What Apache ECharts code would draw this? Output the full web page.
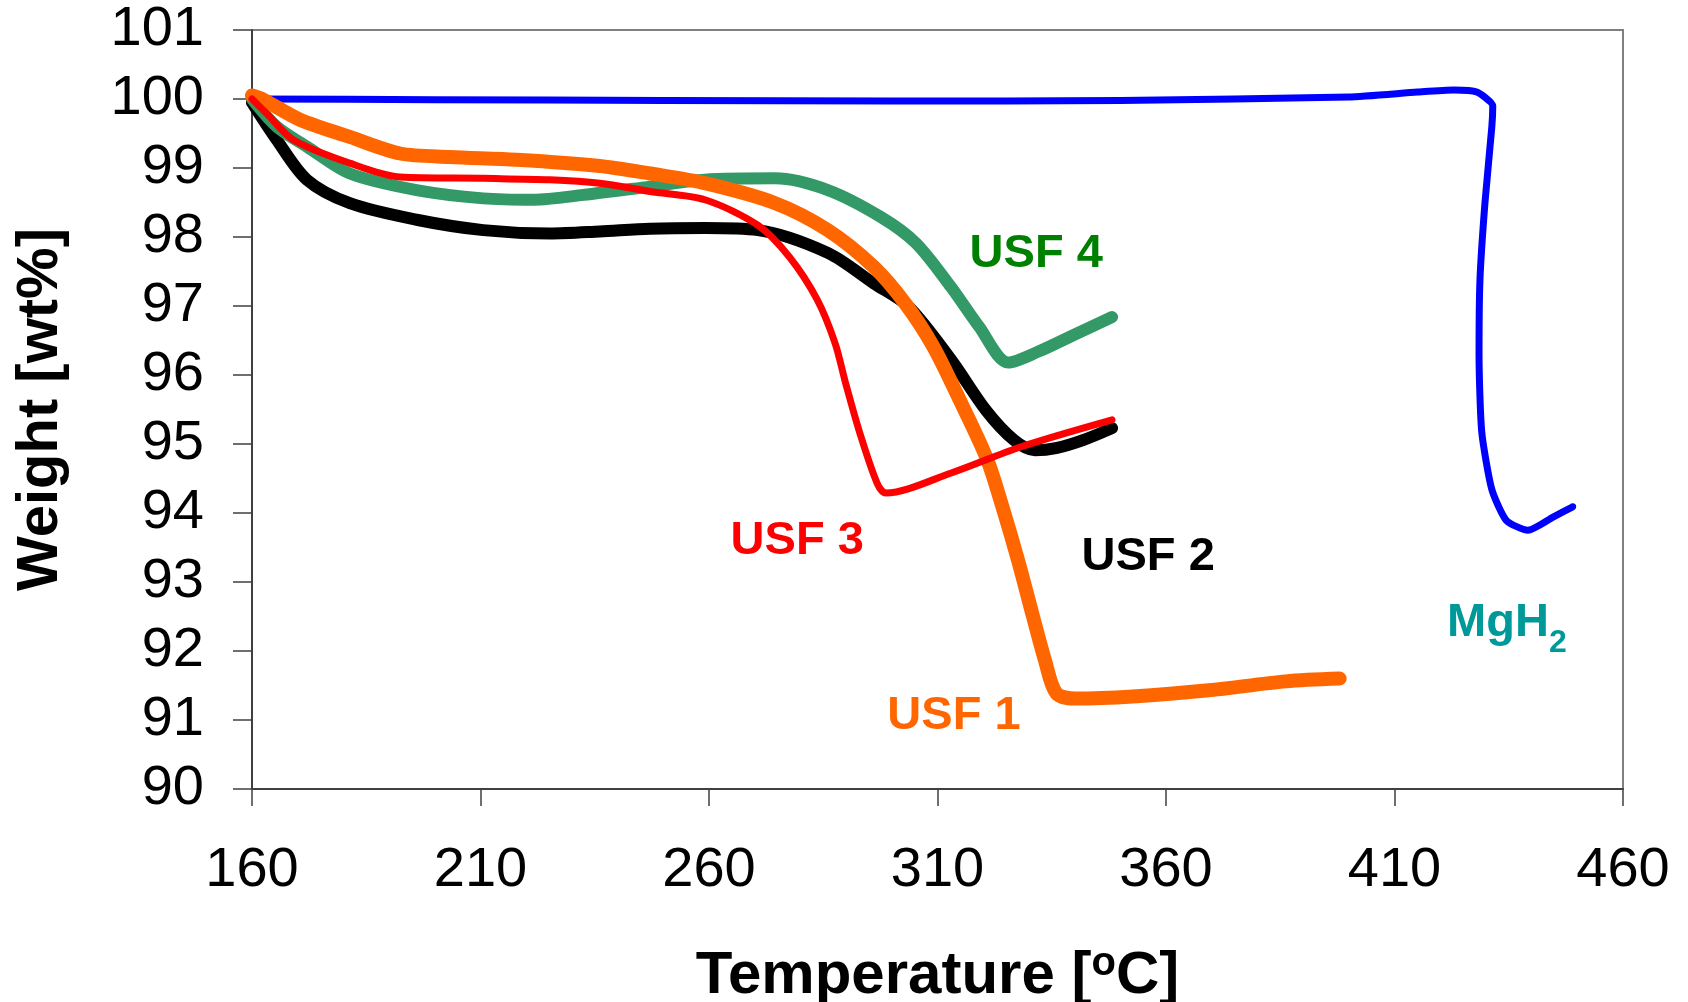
<!DOCTYPE html>
<html>
<head>
<meta charset="utf-8">
<script src="https://cdn.jsdelivr.net/npm/echarts@6/dist/echarts.min.js"></script>
<style>
  html, body { margin: 0; padding: 0; background: #fff; }
  #chart { width: 1688px; height: 1002px; }
</style>
</head>
<body>
<div id="chart"></div>
<script>
// axis ticks
const xTicks = [160, 210, 260, 310, 360, 410, 460];
const yTicks = [90, 91, 92, 93, 94, 95, 96, 97, 98, 99, 100, 101];

// MgH2 (blue)
const mgh2Temp = [160, 200, 250, 300, 350, 400, 415, 423, 428, 431.5, 431.3, 429.8, 428.7, 428.5, 429.1, 431.3, 434.5, 439.2, 444.7, 449];
const mgh2Weight = [100.0, 99.99, 99.98, 99.97, 99.98, 100.03, 100.1, 100.13, 100.1, 99.9, 99.6, 98.5, 97.38, 96.28, 95.17, 94.34, 93.89, 93.75, 93.94, 94.09];

// USF 2 (black)
const usf2Temp = [160, 165.4, 172, 181.4, 196, 210.6, 225.2, 236.1, 247.1, 259.1, 270.7, 286, 296, 303.7, 313, 320.6, 326.7, 331.3, 335.9, 342, 348.2];
const usf2Weight = [99.95, 99.41, 98.83, 98.49, 98.25, 98.10, 98.05, 98.08, 98.12, 98.13, 98.10, 97.77, 97.33, 96.99, 96.22, 95.49, 95.06, 94.91, 94.94, 95.06, 95.23];

// USF 4 (green)
const usf4Temp = [160, 165.4, 172, 181.4, 196, 210.6, 221.6, 232.5, 247.1, 259.1, 274.5, 286, 297.6, 305.3, 312.9, 319.1, 325.5, 332.1, 339.8, 348.2];
const usf4Weight = [100.0, 99.6, 99.31, 98.92, 98.68, 98.56, 98.54, 98.61, 98.73, 98.83, 98.85, 98.68, 98.29, 97.91, 97.28, 96.70, 96.18, 96.34, 96.58, 96.84];

// USF 1 (orange)
const usf1Temp = [160, 162.5, 170.5, 181.4, 192.4, 203.3, 217.9, 236.1, 247.1, 259.1, 274.5, 286, 296, 302.9, 309.1, 315.2, 320.9, 324.2, 327.6, 330.9, 333.5, 336, 340.2, 352.7, 369.4, 386.2, 398];
const usf1Weight = [100.05, 99.99, 99.70, 99.45, 99.21, 99.16, 99.12, 99.03, 98.92, 98.78, 98.49, 98.10, 97.57, 97.04, 96.41, 95.59, 94.77, 94.09, 93.32, 92.50, 91.87, 91.39, 91.31, 91.34, 91.43, 91.56, 91.60];

// USF 3 (red)
const usf3Temp = [160, 163.2, 169, 181.4, 192.4, 210.6, 225.2, 236.1, 247.1, 259.1, 270.7, 277.6, 283.7, 287.6, 289.9, 293, 296.8, 298.7, 313, 328.3, 348.2];
const usf3Weight = [100.0, 99.79, 99.41, 99.07, 98.87, 98.85, 98.83, 98.78, 98.66, 98.54, 98.17, 97.71, 97.09, 96.46, 95.88, 95.16, 94.43, 94.29, 94.58, 94.96, 95.35];

// curve labels, placed in data coordinates
const noteText = ['USF 4', 'USF 3', 'USF 2', 'USF 1', 'MgH{sub|2}'];
const noteTemp = [331.6, 279.3, 356.1, 313.6, 434.6];
const noteWeight = [97.75, 93.6, 93.36, 91.06, 92.4];
const noteColor = ['#008000', '#FF0000', '#000000', '#FF6600', '#009999'];

const FONT = 'Liberation Sans, Arial, sans-serif';

function pairs(xs, ys) {
  return xs.map((x, i) => [x, ys[i]]);
}

function curve(name, xs, ys, color, width, smooth) {
  return {
    name: name,
    type: 'line',
    data: pairs(xs, ys),
    showSymbol: false,
    symbol: 'none',
    smooth: smooth,
    lineStyle: { color: color, width: width, cap: 'round', join: 'round' },
    z: 2
  };
}

const chart = echarts.init(document.getElementById('chart'));

const option = {
  animation: false,
  backgroundColor: '#ffffff',
  textStyle: { fontFamily: FONT },
  grid: {
    left: 252, right: 65, top: 30, bottom: 213,
    outerBoundsMode: 'none',
    show: true,
    borderColor: '#808080',
    borderWidth: 2
  },
  xAxis: {
    type: 'value',
    min: xTicks[0],
    max: xTicks[xTicks.length - 1],
    interval: 50,
    name: 'Temperature [{sup|o}C]',
    nameLocation: 'middle',
    nameGap: 155,
    nameTextStyle: {
      fontFamily: FONT, fontSize: 60, fontWeight: 'bold', color: '#000',
      rich: {
        sup: { fontFamily: FONT, fontSize: 40, fontWeight: 'bold', color: '#000', verticalAlign: 'top', padding: [0, 0, 24, 0] }
      }
    },
    axisLine: { lineStyle: { color: '#404040', width: 2 } },
    axisTick: { show: true, length: 17, lineStyle: { color: '#404040', width: 1.5 } },
    axisLabel: { fontFamily: FONT, fontSize: 56, color: '#000', margin: 54 },
    splitLine: { show: false }
  },
  yAxis: {
    type: 'value',
    min: yTicks[0],
    max: yTicks[yTicks.length - 1],
    interval: 1,
    name: 'Weight [wt%]',
    nameLocation: 'middle',
    nameRotate: 90,
    nameGap: 182,
    nameTextStyle: { fontFamily: FONT, fontSize: 58, fontWeight: 'bold', color: '#000' },
    axisLine: { show: true, lineStyle: { color: '#404040', width: 2 } },
    axisTick: { show: true, length: 19, lineStyle: { color: '#404040', width: 1.5 } },
    axisLabel: { fontFamily: FONT, fontSize: 56, color: '#000', margin: 48 },
    splitLine: { show: false }
  },
  series: [
    curve('MgH2', mgh2Temp, mgh2Weight, '#0000FF', 7, 0.2),
    curve('USF 2', usf2Temp, usf2Weight, '#000000', 12, 0.3),
    curve('USF 4', usf4Temp, usf4Weight, '#339966', 12, 0.3),
    curve('USF 1', usf1Temp, usf1Weight, '#FF6600', 14, 0.3),
    curve('USF 3', usf3Temp, usf3Weight, '#FF0000', 7, 0.3),
    {
      // curve names as text
      name: 'notes',
      type: 'scatter',
      symbolSize: 1,
      itemStyle: { color: 'transparent', opacity: 1 },
      silent: true,
      z: 5,
      data: noteText.map((t, i) => ({
        value: [noteTemp[i], noteWeight[i]],
        label: {
          show: true,
          position: 'inside',
          formatter: t,
          color: noteColor[i],
          opacity: 1,
          textBorderWidth: 0,
          fontFamily: FONT,
          fontSize: 47,
          fontWeight: 'bold',
          rich: {
            sub: { fontFamily: FONT, fontSize: 32, fontWeight: 'bold', color: noteColor[i], verticalAlign: 'bottom', padding: [40, 0, 0, 0] }
          }
        }
      }))
    }
  ]
};

chart.setOption(option);
</script>
</body>
</html>
